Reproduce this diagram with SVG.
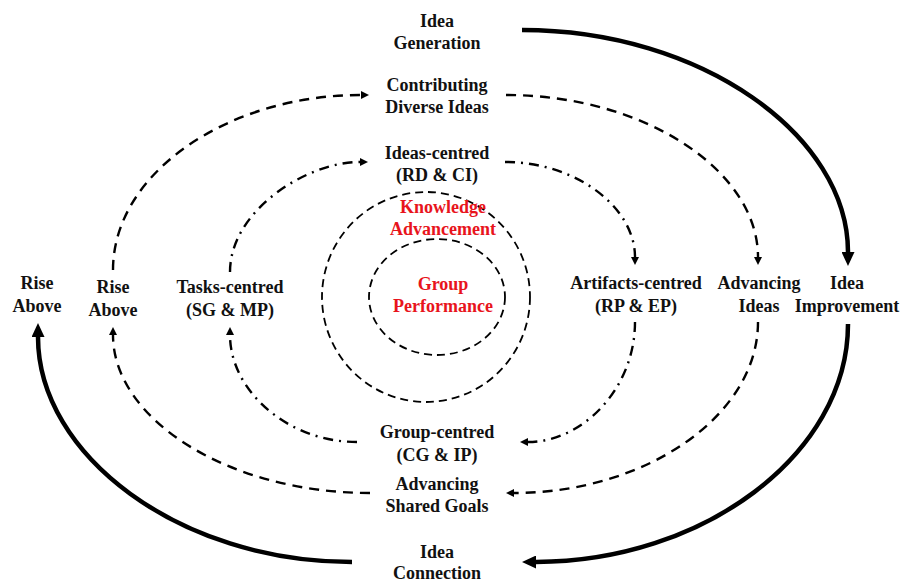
<svg xmlns="http://www.w3.org/2000/svg" width="904" height="583" viewBox="0 0 904 583">
<style>
text{font-family:"Liberation Serif","Times New Roman",serif;font-weight:bold;font-size:18px;text-anchor:middle;fill:#111}
.red{fill:#e8141c}
.solid{fill:none;stroke:#000;stroke-width:4.5}
.dash{fill:none;stroke:#000;stroke-width:2.4;stroke-dasharray:10 7}
.dashdot{fill:none;stroke:#000;stroke-width:2.4;stroke-dasharray:10 6 2 6}
.ring{fill:none;stroke:#000;stroke-width:1.8;stroke-dasharray:8 5}
</style>
<defs>
<marker id="big" markerUnits="userSpaceOnUse" viewBox="0 0 14 13" markerWidth="14" markerHeight="13" refX="0" refY="6.5" orient="auto"><path d="M0,0 L14,6.5 L0,13 z" fill="#000"/></marker>
<marker id="small" markerUnits="userSpaceOnUse" viewBox="0 0 8 8" markerWidth="8" markerHeight="8" refX="0" refY="4" orient="auto"><path d="M0,0 L8,4 L0,8 z" fill="#000"/></marker>
</defs>
<g id="rings">
<ellipse class="ring" cx="426" cy="297" rx="104" ry="105"/>
<ellipse class="ring" cx="437" cy="297" rx="68" ry="58"/>
</g>
<g id="connectors">
<path class="solid" marker-end="url(#big)" d="M522,30 C702,30 848,136 848,252"/>
<path class="solid" marker-end="url(#big)" d="M848,324 C848,455 702,562 536,562"/>
<path class="solid" marker-end="url(#big)" d="M352,562 C179,562 38,455 38,337"/>
<path class="dash" marker-end="url(#small)" d="M113,270 C113,173 228,95 361,95"/>
<path class="dash" marker-end="url(#small)" d="M506,95 C645,95 758,171 758,257"/>
<path class="dash" marker-end="url(#small)" d="M758,322 C758,416 645,493 514,493"/>
<path class="dash" marker-end="url(#small)" d="M370,493 C228,493 113,419 113,335"/>
<path class="dashdot" marker-end="url(#small)" d="M230,272 C230,211 306,162 360,162"/>
<path class="dashdot" marker-end="url(#small)" d="M505,162 C577,162 635,208 635,257"/>
<path class="dashdot" marker-end="url(#small)" d="M635,322 C635,388 583,442 528,442"/>
<path class="dashdot" marker-end="url(#small)" d="M357,442 C287,442 230,390 230,335"/>
</g>
<g id="idea-generation"><text x="437" y="27">Idea</text><text x="437" y="49">Generation</text></g>
<g id="contributing-diverse-ideas"><text x="437" y="91">Contributing</text><text x="437" y="113">Diverse Ideas</text></g>
<g id="ideas-centred"><text x="437" y="159">Ideas-centred</text><text x="437" y="181">(RD &amp; CI)</text></g>
<g id="knowledge-advancement"><text class="red" x="443" y="213">Knowledge</text><text class="red" x="443" y="235">Advancement</text></g>
<g id="group-performance"><text class="red" x="443" y="290">Group</text><text class="red" x="443" y="312">Performance</text></g>
<g id="rise-above-outer"><text x="37" y="289">Rise</text><text x="37" y="312">Above</text></g>
<g id="rise-above-inner"><text x="113" y="293">Rise</text><text x="113" y="316">Above</text></g>
<g id="tasks-centred"><text x="230" y="293">Tasks-centred</text><text x="230" y="316">(SG &amp; MP)</text></g>
<g id="artifacts-centred"><text x="636" y="289">Artifacts-centred</text><text x="636" y="312">(RP &amp; EP)</text></g>
<g id="advancing-ideas"><text x="759" y="289">Advancing</text><text x="759" y="312">Ideas</text></g>
<g id="idea-improvement"><text x="847" y="289">Idea</text><text x="847" y="312">Improvement</text></g>
<g id="group-centred"><text x="437" y="438">Group-centred</text><text x="437" y="461">(CG &amp; IP)</text></g>
<g id="advancing-shared-goals"><text x="437" y="490">Advancing</text><text x="437" y="512">Shared Goals</text></g>
<g id="idea-connection"><text x="437" y="558">Idea</text><text x="437" y="579">Connection</text></g>
</svg>
